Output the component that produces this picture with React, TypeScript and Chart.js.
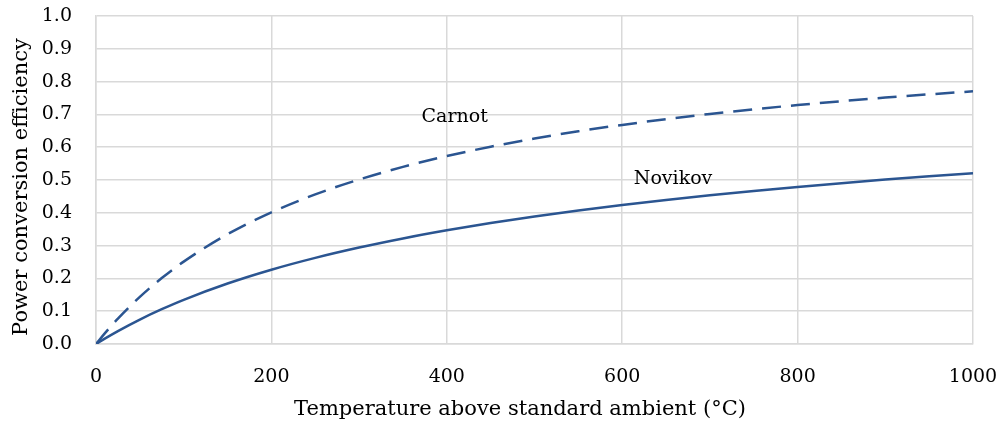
import React, { useEffect, useRef } from "react";
import { Chart, registerables } from "chart.js";

Chart.register(...registerables);

const temperatures = [0, 10, 25, 50, 75, 100, 150, 200, 250, 300, 350, 400, 450, 500, 550, 600, 650, 700, 750, 800, 850, 900, 950, 1000];
const carnot = [0, 0.0325, 0.0774, 0.1436, 0.201, 0.2512, 0.3347, 0.4015, 0.4561, 0.5015, 0.54, 0.5729, 0.6015, 0.6264, 0.6485, 0.668, 0.6855, 0.7013, 0.7155, 0.7285, 0.7403, 0.7512, 0.7611, 0.7703];
const novikov = [0, 0.0164, 0.0395, 0.0746, 0.1061, 0.1347, 0.1843, 0.2264, 0.2625, 0.294, 0.3218, 0.3465, 0.3687, 0.3888, 0.4071, 0.4238, 0.4392, 0.4535, 0.4666, 0.4789, 0.4904, 0.5012, 0.5112, 0.5207];
const xTicks = [0, 200, 400, 600, 800, 1000];
const seriesNames = ["Carnot", "Novikov"];
const xTitle = "Temperature above standard ambient (°C)";
const yTitle = "Power conversion efficiency";

const FONT = "'DejaVu Serif', serif";
const LINE = "#2b5591";
const GRID = "#d9d9d9";

const textPlugin = {
  id: "textLabels",
  afterDatasetsDraw(chart: any) {
    const { ctx, scales } = chart;
    const spots = [
      { text: seriesNames[0], x: 409, y: 0.692 },
      { text: seriesNames[1], x: 658, y: 0.503 },
    ];
    ctx.save();
    ctx.fillStyle = "#000";
    ctx.textAlign = "center";
    ctx.textBaseline = "middle";
    ctx.font = `19px ${FONT}`;
    for (const s of spots) {
      ctx.fillText(s.text, scales.x.getPixelForValue(s.x), scales.y.getPixelForValue(s.y));
    }
    ctx.font = `21px ${FONT}`;
    ctx.fillText(xTitle, 520, 410);
    ctx.translate(22, 187);
    ctx.rotate(-Math.PI / 2);
    ctx.fillText(yTitle, 0, 0);
    ctx.restore();
  },
};

export default function App() {
  const ref = useRef<HTMLCanvasElement>(null);
  useEffect(() => {
    document.body.style.margin = "0";
    const chart = new Chart(ref.current!, {
      type: "line",
      data: {
        datasets: [
          {
            label: seriesNames[0],
            data: temperatures.map((t, i) => ({ x: t, y: carnot[i] })),
            borderColor: LINE,
            borderWidth: 2.5,
            borderDash: [19, 10],
            pointRadius: 0,
            cubicInterpolationMode: "monotone",
          },
          {
            label: seriesNames[1],
            data: temperatures.map((t, i) => ({ x: t, y: novikov[i] })),
            borderColor: LINE,
            borderWidth: 2.5,
            pointRadius: 0,
            cubicInterpolationMode: "monotone",
          },
        ],
      },
      options: {
        animation: false,
        responsive: false,
        layout: { padding: { top: 16, right: 30, left: 0, bottom: 0 } },
        plugins: { legend: { display: false }, tooltip: { enabled: false } },
        scales: {
          x: {
            type: "linear",
            min: 0,
            max: 1000,
            afterBuildTicks: (s: any) => {
              s.ticks = xTicks.map((v) => ({ value: v }));
            },
            afterFit: (s: any) => {
              s.height = 86;
              s.paddingLeft = 0;
              s.paddingRight = 0;
            },
            grid: { color: GRID, lineWidth: 1.5, drawTicks: false },
            border: { color: GRID, width: 1.5 },
            ticks: {
              font: { family: FONT, size: 19 },
              color: "#000",
              padding: 22,
              maxRotation: 0,
              callback: (v: any) => String(v),
            },
          },
          y: {
            min: 0,
            max: 1,
            afterFit: (s: any) => {
              s.width = 96;
              s.paddingTop = 0;
              s.paddingBottom = 0;
            },
            grid: { color: GRID, lineWidth: 1.5, drawTicks: false },
            border: { color: GRID, width: 1.5 },
            ticks: {
              stepSize: 0.1,
              font: { family: FONT, size: 19 },
              color: "#000",
              padding: 24,
              callback: (v: any) => Number(v).toFixed(1),
            },
          },
        },
      },
      plugins: [textPlugin],
    });
    return () => chart.destroy();
  }, []);
  return (
    <div style={{ width: 1003, height: 430 }}>
      <canvas ref={ref} width={1003} height={430} />
    </div>
  );
}
